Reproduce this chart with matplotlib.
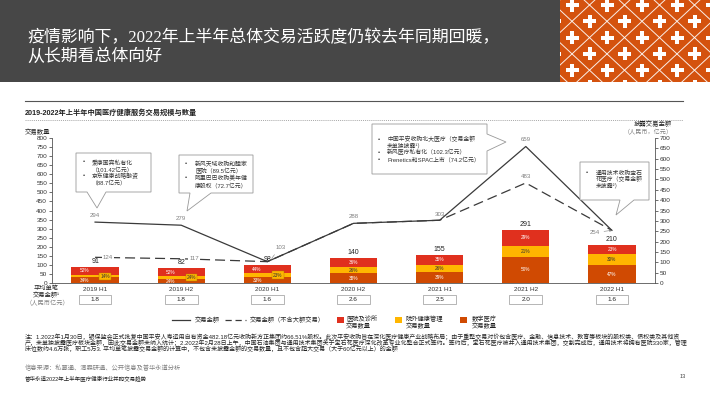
import matplotlib
matplotlib.use('Agg')
import matplotlib.pyplot as plt
from matplotlib.patches import Rectangle, Polygon
from matplotlib.lines import Line2D
import matplotlib.transforms as mtransforms
import numpy as np

W, H = 710, 399
plt.rcParams['font.family'] = ['Liberation Sans', 'Noto Sans CJK SC', 'DejaVu Sans']

# ---------------- data ----------------
categories = ['2019 H1', '2019 H2', '2020 H1', '2020 H2', '2021 H1', '2021 H2', '2022 H1']
deal_counts = [91, 82, 98, 140, 155, 291, 210]
pct_hospital = [52, 52, 44, 36, 35, 29, 23]
pct_outpatient = [14, 24, 23, 26, 26, 21, 30]
pct_digital = [34, 24, 33, 38, 39, 50, 47]
deal_value = [294, 279, 103, 288, 303, 659, 254]
deal_value_ex_large = [124, 117, 103, 288, 303, 483, 254]
avg_deal_size = ['1.8', '1.8', '1.6', '2.6', '2.5', '2.0', '1.6']
left_ticks = list(range(0, 801, 50))
right_ticks = list(range(0, 701, 50))

C_RED = '#E0301E'
C_YEL = '#FFB600'
C_ORG = '#D04A02'
C_LINE = '#3a3a3a'
C_GRAY = '#808080'


def fx(x):
    return x / W


def fy(y):
    return 1 - y / H


fig = plt.figure(figsize=(7.1, 3.99), dpi=100)
fig.patch.set_facecolor('white')

# ---------------- header ----------------
fig.add_artist(Rectangle((0, fy(82)), 1, 82 / H, transform=fig.transFigure,
                         facecolor='#474747', edgecolor='none', zorder=0))
pax = fig.add_axes([fx(560), fy(82), 150 / W, 82 / H])
pax.set_xlim(0, 150)
pax.set_ylim(82, 0)
pax.axis('off')
pax.add_patch(Rectangle((0, 0), 150, 82, facecolor='#D4520E', edgecolor='none'))
dx, dy = 17.5, 16.3
ox, oy = 12, 5
xs = np.array([-40, 200])
for m in range(-21, 22, 2):
    pax.plot(xs, oy + dy * (m - (xs - ox) / dx), color='white', lw=0.7, alpha=0.9)
    pax.plot(xs, oy + dy * ((xs - ox) / dx - m), color='white', lw=0.7, alpha=0.9)
for j in range(-1, 7):
    for i in range(-1, 6):
        cx = ox + 2 * dx * i + dx * (j % 2)
        cy = oy + dy * j
        pax.add_patch(Rectangle((cx - 6.5, cy - 2), 13, 4, facecolor='white', edgecolor='none'))
        pax.add_patch(Rectangle((cx - 2, cy - 6.5), 4, 13, facecolor='white', edgecolor='none'))

title_font = ['Liberation Serif', 'Noto Sans CJK SC']
fig.text(fx(27), fy(38), '疫情影响下，2022年上半年总体交易活跃度仍较去年同期回暖，',
         color='white', fontsize=12.2, va='center', family=title_font)
fig.text(fx(27), fy(57), '从长期看总体向好', color='white', fontsize=12.2, va='center',
         family=title_font)

# rules
fig.add_artist(Line2D([fx(25), fx(683)], [fy(101), fy(101)], color='#555555', lw=0.8))
fig.text(fx(25), fy(113.5), '2019-2022年上半年中国医疗健康服务交易规模与数量',
         fontsize=5.2, fontweight='bold', va='center', color='#222222')
fig.add_artist(Line2D([fx(25), fx(683)], [fy(120), fy(120)], color='#888888', lw=0.5,
                      ls=(0, (1.5, 1.5))))

# ---------------- main axes ----------------
ax = fig.add_axes([fx(52), fy(283), 603 / W, 145 / H])
ax.set_xlim(-0.5, 6.5)
ax.set_ylim(0, 800)
ax.set_yticks(left_ticks)
ax.tick_params(axis='y', labelsize=4.6, length=2, width=0.5, pad=1.5, colors='#333333')
ax.set_xticks(range(len(categories)))
ax.set_xticklabels(categories)
ax.tick_params(axis='x', labelsize=4.6, length=0, pad=3, colors='#333333')
for s in ['top', 'right']:
    ax.spines[s].set_visible(False)
for s in ['left', 'bottom']:
    ax.spines[s].set_color('#555555')
    ax.spines[s].set_linewidth(0.6)
ax.patch.set_alpha(0)

x = list(range(len(categories)))
bw = 0.55
dig = [t * p / 100 for t, p in zip(deal_counts, pct_digital)]
outp = [t * p / 100 for t, p in zip(deal_counts, pct_outpatient)]
hosp = [t * p / 100 for t, p in zip(deal_counts, pct_hospital)]
b2 = [a + b for a, b in zip(dig, outp)]
ax.bar(x, dig, bw, color=C_ORG, zorder=2)
ax.bar(x, outp, bw, bottom=dig, color=C_YEL, zorder=2)
ax.bar(x, hosp, bw, bottom=b2, color=C_RED, zorder=2)

for i in x:
    small = deal_counts[i] < 120
    xo = -0.12 if small else 0
    ax.text(i + xo, dig[i] / 2, f'{pct_digital[i]}%', color='white', fontsize=3.4,
            ha='center', va='center', zorder=3)
    ax.text(i + xo, b2[i] + hosp[i] / 2, f'{pct_hospital[i]}%', color='white', fontsize=3.4,
            ha='center', va='center', zorder=3)
    if small:
        ax.text(i + 0.12, dig[i] + outp[i] / 2, f'{pct_outpatient[i]}%', color='#333333',
                fontsize=3.4, ha='center', va='center', zorder=4,
                bbox=dict(boxstyle='square,pad=0.25', fc=C_YEL, ec='#b08000', lw=0.3))
    else:
        ax.text(i, dig[i] + outp[i] / 2, f'{pct_outpatient[i]}%', color='#333333',
                fontsize=3.4, ha='center', va='center', zorder=3)
    ax.text(i, deal_counts[i] + 30, str(deal_counts[i]), fontsize=5, ha='center',
            va='center', color='#222222', zorder=3)

# ---------------- lines on right axis ----------------
ax2 = ax.twinx()
ax2.set_ylim(0, 700)
ax2.set_yticks(right_ticks)
ax2.tick_params(axis='y', labelsize=4.6, length=2, width=0.5, pad=1.5, colors='#333333')
for s in ['top', 'left', 'bottom']:
    ax2.spines[s].set_visible(False)
ax2.spines['right'].set_color('#555555')
ax2.spines['right'].set_linewidth(0.6)
ax2.plot(x, deal_value, color=C_LINE, lw=0.9, zorder=3)
ax2.plot(x, deal_value_ex_large, color=C_LINE, lw=0.9, ls=(0, (8, 4)), zorder=3)

lbl = dict(fontsize=4.4, color=C_GRAY, ha='center', va='center')
for i in [0, 1, 3]:
    ax2.text(i, deal_value[i] + 33, str(deal_value[i]), **lbl)
ax2.text(4, deal_value[4] + 30, str(deal_value[4]), **lbl)
ax2.text(5, deal_value[5] + 33, str(deal_value[5]), **lbl)
ax2.text(5, deal_value_ex_large[5] + 33, str(deal_value_ex_large[5]), **lbl)
for i in [0, 1]:
    ax2.text(i + 0.15, deal_value_ex_large[i], str(deal_value_ex_large[i]),
             bbox=dict(boxstyle='square,pad=0.15', fc='white', ec='none'), zorder=4, **lbl)
ax2.annotate(str(deal_value[2]), xy=(2.03, deal_value[2] + 5), xytext=(2.15, deal_value[2] + 70),
             arrowprops=dict(arrowstyle='-', color=C_GRAY, lw=0.4), **lbl)
ax2.annotate(str(deal_value[6]), xy=(6.0, deal_value[6]), xytext=(5.8, deal_value[6] - 10),
             arrowprops=dict(arrowstyle='-|>', color=C_GRAY, lw=0.4, mutation_scale=3,
                             shrinkA=1, shrinkB=0), **lbl)

# axis titles
fig.text(fx(25), fy(131.5), '交易数量', fontsize=4.6, va='center', ha='left', color='#222222')
fig.text(fx(672), fy(124), '披露交易金额', fontsize=4.6, va='center', ha='right', color='#222222')
fig.text(fx(673), fy(131), '（人民币，亿元）', fontsize=4.4, va='center', ha='right', color=C_GRAY)

# ---------------- average deal size row ----------------
bt = mtransforms.blended_transform_factory(ax.transData, fig.transFigure)
for i in x:
    fig.add_artist(Rectangle((i - 0.19, fy(304)), 0.38, 9 / H, transform=bt,
                             facecolor='white', edgecolor='#999999', lw=0.5))
    fig.text(i, fy(299.5), avg_deal_size[i], transform=bt, fontsize=4.6, ha='center',
             va='center', color='#222222')
fig.text(fx(46), fy(288), '平均单笔', fontsize=4.5, ha='center', va='center', color='#222222')
fig.text(fx(46), fy(295.5), '交易金额¹', fontsize=4.5, ha='center', va='center', color='#222222')
fig.text(fx(47), fy(303), '（人民币亿元）', fontsize=4.5, ha='center', va='center', color=C_GRAY)


# ---------------- callouts ----------------
def callout(verts):
    fig.add_artist(Polygon([(fx(a), fy(b)) for a, b in verts], closed=True,
                           transform=fig.transFigure, facecolor='white',
                           edgecolor='#999999', lw=0.6, zorder=5))


def bottom_tail(x0, y0, x1, y1, ta, tb, tip):
    return [(x0, y0), (x1, y0), (x1, y1), (tb, y1), tip, (ta, y1), (x0, y1)]


def right_tail(x0, y0, x1, y1, ta, tb, tip):
    return [(x0, y0), (x1, y0), (x1, ta), tip, (x1, tb), (x1, y1), (x0, y1)]


def box_text(bx, tx, items, fs=4.2):
    for y, s, bullet in items:
        if bullet:
            fig.text(fx(bx), fy(y), '•', fontsize=fs, va='center', ha='left', zorder=6,
                     color='#333333')
        fig.text(fx(tx), fy(y), s, fontsize=fs, va='center', ha='left', zorder=6,
                 color='#333333')


callout(bottom_tail(76, 153, 151, 192, 87, 106, (97, 208)))
box_text(83, 92, [(162, '爱康国宾私有化', True), (169, '（101.42亿元）', False),
                  (176, '京东健康战略融资', True), (182.5, '（88.7亿元）', False)])

callout(bottom_tail(179, 155, 253, 193, 190, 211, (187, 211)))
box_text(185, 195, [(164, '新风天域收购和睦家', True), (171, '医院（89.5亿元）', False),
                    (178, '阿里巴巴收购美年健', True), (185, '康股权（72.7亿元）', False)])

callout(right_tail(372, 124, 487, 174, 134, 151, (506, 142)))
box_text(378, 387, [(139, '中国平安收购北大医疗（交易金额', True), (145.5, '未单独披露¹）', False),
                    (152.5, '新风医疗私有化（102.3亿元）', True),
                    (159.5, 'Prenetics和SPAC上市（74.2亿元）', True)])

callout(bottom_tail(580, 162, 649, 200, 620, 634, (616, 215)))
box_text(586, 596, [(173, '通用技术收购宝石', True), (179.5, '花医疗（交易金额', False),
                    (186, '未披露²）', False)])

# ---------------- legend ----------------
lfs = 4.5
fig.add_artist(Line2D([fx(172), fx(190)], [fy(320), fy(320)], color=C_LINE, lw=0.9))
fig.text(fx(195), fy(320), '交易金额', fontsize=lfs, va='center', color='#222222')
fig.add_artist(Line2D([fx(225), fx(246)], [fy(320), fy(320)], color=C_LINE, lw=0.9,
                      ls=(0, (5, 3))))
fig.text(fx(250), fy(320), '交易金额（不含大额交易）', fontsize=lfs, va='center', color='#222222')
for (sx, tx, col, l1) in [(337, 346, C_RED, '医院及诊所'), (395, 406, C_YEL, '院外健康管理'),
                          (460, 472, C_ORG, '数字医疗')]:
    fig.add_artist(Rectangle((fx(sx), fy(323)), 7 / W, 6 / H, transform=fig.transFigure,
                             facecolor=col, edgecolor='none'))
    fig.text(fx(tx), fy(319), l1, fontsize=lfs, va='center', color='#222222')
    fig.text(fx(tx), fy(326), '交易数量', fontsize=lfs, va='center', color='#222222')

# ---------------- notes ----------------
nfs = 4.3
notes = [
    '注：1.2022年1月30日，银保监会正式批复中国平安人寿运用自有资金482.18亿元收购新方正集团约66.51%股权。此次平安收购旨在深化医疗健康产业战略布局；由于重整交易对价包含医疗、金融、信息技术、教育等板块的股权类、债权类及其他资',
    '产，未单独披露医疗板块金额，因此交易金额未纳入统计；2.2022年2月28日上午，中国石油集团与通用技术集团关于宝石花医疗深化改革专业化整合正式签约。签约后，宝石花医疗被并入通用技术集团，交割完成后，通用技术将拥有医院330家，管理',
    '床位数约4.6万张，职工5万3. 平均单笔披露交易金额的计算中，不包含未披露金额的交易数量，且不包含超大交易（大于60亿元以上）的金额',
]
for k, s in enumerate(notes):
    fig.text(fx(25), fy(336.5 + 6 * k), s, fontsize=nfs, va='center', color='#222222')
fig.text(fx(25), fy(368), '信息来源：私募通、清森研通、公开信息及普华永道分析', fontsize=4.5,
         va='center', color=C_GRAY)
fig.text(fx(25), fy(379), '普华永道2022年上半年医疗健康行业并购交易趋势', fontsize=4.0,
         va='center', color='#222222')
fig.text(fx(683), fy(376), '13', fontsize=4.0, va='center', ha='center', color='#444444')

fig.savefig('out.png', dpi=100)
